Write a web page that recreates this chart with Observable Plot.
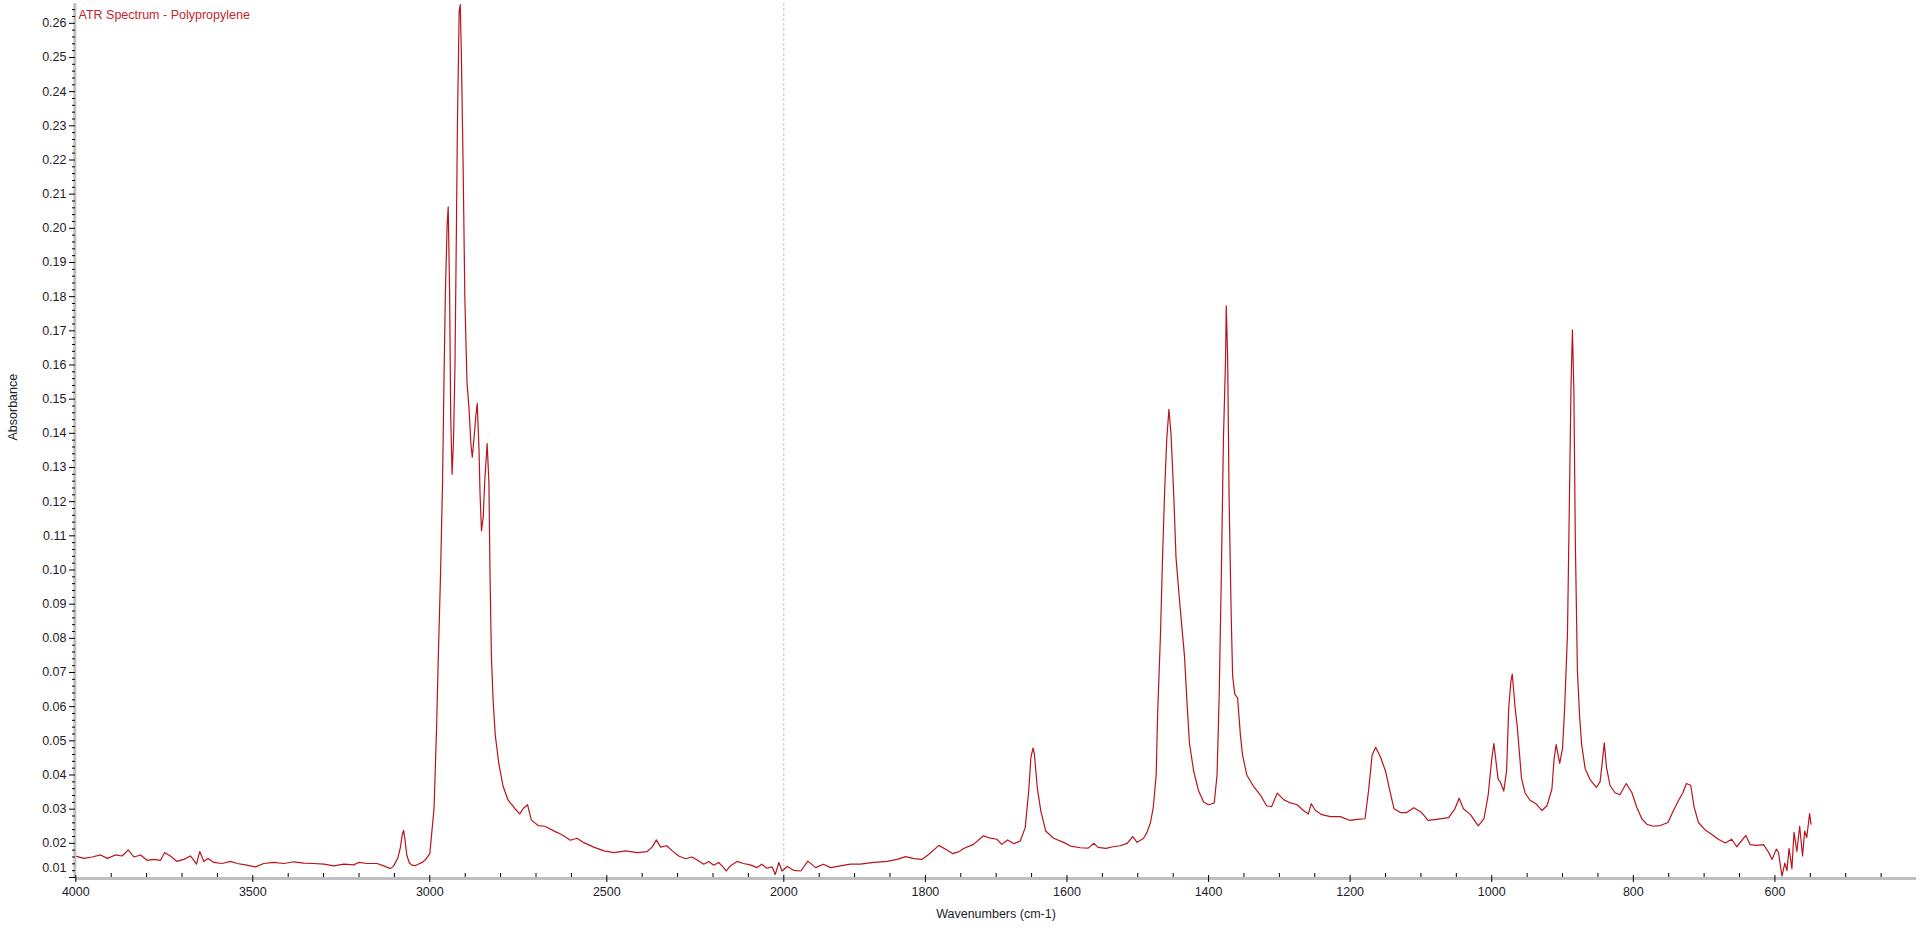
<!DOCTYPE html>
<html>
<head>
<meta charset="utf-8">
<script src="https://cdn.jsdelivr.net/npm/d3@7"></script>
<script src="https://cdn.jsdelivr.net/npm/@observablehq/plot@0.6"></script>
<style>
  html, body { margin: 0; padding: 0; background: #fff; }
  #chart svg { display: block; }
</style>
</head>
<body>
<div id="chart"></div>
<script>
// ---- data ----
const title = "ATR Spectrum - Polypropylene";
const xLabel = "Wavenumbers (cm-1)";
const yLabel = "Absorbance";

const wavenumber = [
  3998,3977,3954,3930,3911,3888,3869,3852,3836,3817,3798,3780,3761,3749,3733,3714,3695,3676,3659,3650,
  3638,3627,3610,3587,3563,3544,3521,3492,3469,3441,3412,3384,3356,3328,3299,3271,3243,3215,3201,3177,
  3149,3130,3111,3102,3090,3083,3078,3074,3070,3065,3058,3050,3040,3030,3020,3010,3000,
  2988,2981,2976,2970,2964,2960,2956,2951,2948,2944,2941,2937,2933,2929,2925,2922,2917,2914,2911,2906,
  2901,2895,2889,2884,2880,2875,2870,2866,2861,2858,2854,2849,2845,2838,2833,2830,2826,2821,2815,2805,
  2793,2779,2760,2746,2736,2724,2713,2694,2675,2647,2628,
  2603,2584,2565,2537,2508,2480,2447,2414,2386,2372,2360,2348,2331,2315,2297,2278,2259,2240,2226,2212,
  2198,2184,2170,2163,2151,2132,2114,2095,2076,2062,2048,2033,2024,2014,2005,
  1995,1986,1976,1966,1955,1944,1934,1920,1906,1892,1873,1854,1840,1828,1816,1805,1795,1781,1769,1762,
  1753,1746,1732,1718,1708,1699,1692,1684,1675,1666,1659,1654,1651,1648,1646,1642,1637,1630,1619,1604,
  1595,1581,1570,1562,1556,1545,1535,
  1525,1515,1507,1501,1492,1487,1482,1478,1474,1472,1468,1465,1462,1459,1456,1453,1449,1446,1441,1438,
  1434,1431,1427,1421,1414,1407,1400,1392,1388,1385,1382,1379,1376,1375,1373,1371,1368,1366,1363,1359,
  1355,1352,1346,1336,1327,1318,1311,1303,1294,1285,1275,1266,1259,1255,1249,1240,1228,1214,1200,1190,
  1179,1174,1169,1164,1157,1150,1144,1138,1129,1120,1110,1099,1090,1078,1061,1052,1046,1040,1030,1019,
  1011,1005,1000,997,991,
  988,983,979,976,973,971,967,964,961,958,953,946,937,929,922,915,912,909,904,900,
  897,893,890,888,886,884,882,879,876,873,868,861,852,847,844,841,838,833,826,819,
  810,802,795,788,781,772,762,751,744,736,730,725,719,714,708,699,689,680,670,661,
  654,641,635,626,616,609,604,598,595,590,586,583,580,576,573,569,565,561,558,555,
  551,549
];

const absorbance = [
  0.0162,0.0156,0.0160,0.0166,0.0156,0.0166,0.0163,0.0181,0.0160,0.0166,0.0150,0.0153,0.0150,0.0173,0.0163,0.0147,0.0153,0.0163,0.0139,0.0176,
  0.0147,0.0156,0.0144,0.0141,0.0147,0.0141,0.0137,0.0131,0.0141,0.0144,0.0141,0.0146,0.0142,0.0141,0.0139,0.0134,0.0139,0.0137,0.0144,0.0141,
  0.0141,0.0134,0.0126,0.0134,0.0158,0.0188,0.0225,0.0238,0.0210,0.0165,0.0143,0.0136,0.0135,0.0140,0.0145,0.0155,0.0170,
  0.0302,0.0532,0.0745,0.0975,0.1256,0.1550,0.1810,0.2010,0.2063,0.1810,0.1450,0.1280,0.1380,0.1590,0.1980,0.2306,0.2636,0.2655,0.2520,0.2191,
  0.1797,0.1550,0.1469,0.1370,0.1330,0.1387,0.1450,0.1488,0.1353,0.1220,0.1115,0.1156,0.1256,0.1370,0.1256,0.0994,0.0748,0.0614,0.0516,0.0433,
  0.0367,0.0327,0.0302,0.0286,0.0302,0.0313,0.0268,0.0252,0.0250,0.0235,0.0226,
  0.0209,0.0215,0.0202,0.0189,0.0178,0.0173,0.0178,0.0173,0.0176,0.0189,0.0210,0.0189,0.0193,0.0178,0.0163,0.0155,0.0160,0.0148,0.0139,0.0147,
  0.0136,0.0144,0.0129,0.0119,0.0134,0.0147,0.0141,0.0137,0.0129,0.0139,0.0127,0.0131,0.0109,0.0144,0.0119,
  0.0132,0.0121,0.0119,0.0148,0.0129,0.0139,0.0129,0.0134,0.0139,0.0139,0.0144,0.0147,0.0153,0.0161,0.0155,0.0153,0.0168,0.0194,0.0180,0.0170,
  0.0175,0.0185,0.0197,0.0222,0.0215,0.0212,0.0197,0.0210,0.0199,0.0207,0.0246,0.0354,0.0451,0.0479,0.0461,0.0364,0.0295,0.0236,0.0215,0.0202,
  0.0192,0.0187,0.0186,0.0200,0.0188,0.0185,0.0190,
  0.0193,0.0200,0.0220,0.0203,0.0214,0.0232,0.0261,0.0307,0.0400,0.0574,0.0806,0.1037,0.1234,0.1385,0.1470,0.1397,0.1211,0.1037,0.0910,0.0840,
  0.0748,0.0632,0.0493,0.0411,0.0353,0.0321,0.0313,0.0318,0.0400,0.0632,0.0980,0.1385,0.1617,0.1773,0.1617,0.1211,0.0864,0.0690,0.0637,0.0626,
  0.0516,0.0458,0.0400,0.0365,0.0342,0.0310,0.0307,0.0347,0.0328,0.0319,0.0313,0.0296,0.0286,0.0316,0.0296,0.0284,0.0278,0.0278,0.0267,0.0270,
  0.0272,0.0354,0.0458,0.0481,0.0452,0.0411,0.0354,0.0301,0.0290,0.0290,0.0304,0.0290,0.0267,0.0270,0.0275,0.0301,0.0332,0.0301,0.0284,0.0251,
  0.0272,0.0342,0.0446,0.0492,0.0388,
  0.0380,0.0353,0.0413,0.0597,0.0673,0.0695,0.0597,0.0543,0.0467,0.0391,0.0348,0.0326,0.0315,0.0296,0.0310,0.0359,0.0445,0.0489,0.0434,0.0478,
  0.0597,0.0814,0.1247,0.1540,0.1703,0.1529,0.1096,0.0705,0.0575,0.0489,0.0418,0.0386,0.0364,0.0380,0.0434,0.0494,0.0424,0.0370,0.0348,0.0342,
  0.0375,0.0348,0.0305,0.0272,0.0256,0.0250,0.0252,0.0261,0.0293,0.0326,0.0348,0.0375,0.0370,0.0305,0.0261,0.0240,0.0226,0.0212,0.0201,0.0212,
  0.0190,0.0223,0.0196,0.0194,0.0196,0.0174,0.0153,0.0183,0.0174,0.0104,0.0142,0.0120,0.0185,0.0126,0.0232,0.0176,0.0250,0.0163,0.0236,0.0217,
  0.0287,0.0256
];

const xMajorTicks = [4000, 3500, 3000, 2500, 2000, 1800, 1600, 1400, 1200, 1000, 800, 600];
const yMajorTicks = [0.01,0.02,0.03,0.04,0.05,0.06,0.07,0.08,0.09,0.10,0.11,0.12,0.13,0.14,0.15,0.16,0.17,0.18,0.19,0.20,0.21,0.22,0.23,0.24,0.25,0.26];

// ---- derived ----
const spectrum = wavenumber.map((w, i) => ({w, a: absorbance[i]}));
const xMinorTicks = d3.range(3900, 2000, -100).concat(d3.range(1950, 449, -50))
  .filter(t => !xMajorTicks.includes(t));
const yMinorTicks = d3.range(12, 266, 2).filter(k => k % 10 !== 0).map(k => k / 1000);

const ink = "#1c1c2a";
const fmt2 = d3.format(".2f");

const chart = Plot.plot({
  width: 1920,
  height: 928,
  marginTop: 3,
  marginRight: 4,
  marginBottom: 51,
  marginLeft: 75,
  style: {
    fontFamily: "'Liberation Sans', Arial, sans-serif",
    fontSize: "12.5px",
    color: ink,
    background: "#fff",
    overflow: "visible"
  },
  x: {type: "linear", domain: [4000, 2000, 400], range: [75.3, 783.3, 1916]},
  y: {type: "linear", domain: [0.01, 0.2658]},
  marks: [
    Plot.ruleX([2000], {stroke: "#c4c4c4", strokeDasharray: "3,2", strokeWidth: 1}),
    Plot.line(spectrum, {x: "w", y: "a", stroke: "#b8141e", strokeWidth: 1.2}),
    // axis bands
    Plot.ruleX([4000], {stroke: "#c0c0c0", strokeWidth: 3, dx: -1}),
    Plot.ruleY([0.01], {stroke: "#c0c0c0", strokeWidth: 3, dy: 1}),
    // x ticks
    Plot.axisX({ticks: xMinorTicks, tickSize: 4, dy: -4, tickFormat: () => "", label: null, stroke: "#000"}),
    Plot.axisX({ticks: xMajorTicks, tickSize: 7, dy: -2, tickPadding: 5, tickFormat: d => String(d), label: null, stroke: "#000"}),
    // y ticks
    Plot.axisY({ticks: yMinorTicks, tickSize: 3, tickFormat: () => "", label: null, stroke: "#000"}),
    Plot.axisY({ticks: yMajorTicks.filter(v => v > 0.015), tickSize: 6, tickPadding: 3, tickFormat: fmt2, label: null, stroke: "#000"}),
    Plot.axisY({ticks: [0.01], tickSize: 6, tickFormat: () => "", label: null, stroke: "#000"}),
    Plot.axisY({ticks: [0.01], tickSize: 0, tickPadding: 9, dy: -10, tickFormat: fmt2, label: null}),
    // texts
    Plot.text([title], {text: d => d, frameAnchor: "top-left", dx: 3, dy: 7, fill: "#c0262d", textAnchor: "start"}),
    Plot.text([yLabel], {text: d => d, frameAnchor: "left", rotate: -90, dx: -63, fill: ink}),
    Plot.text([xLabel], {text: d => d, frameAnchor: "bottom", lineAnchor: "middle", dy: 36, fill: ink})
  ]
});
document.getElementById("chart").appendChild(chart);
</script>
</body>
</html>
